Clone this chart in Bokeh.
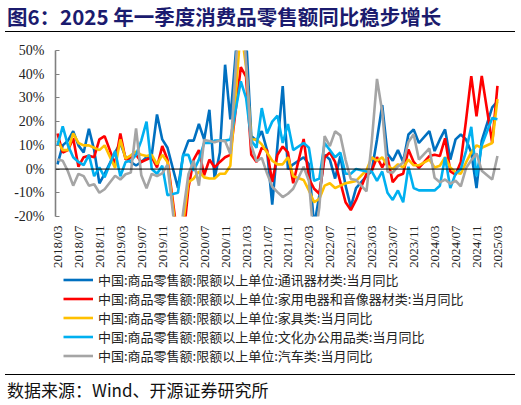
from math import pi
from bokeh.plotting import figure
from bokeh.models import (Range1d, FixedTicker, Span, Div, Legend, LegendItem,
                          ColumnDataSource)
from bokeh.layouts import column
from bokeh.embed import file_html
from bokeh.resources import INLINE

# ---------------- data ----------------
months = (["2018/%02d" % m for m in range(3, 13)] +
          ["%d/%02d" % (y, m) for y in range(2019, 2025) for m in range(2, 13)] +
          ["2025/02", "2025/03"])

tick_labels = ["2018/03", "2018/07", "2018/11", "2019/03", "2019/07", "2019/11",
               "2020/03", "2020/07", "2020/11", "2021/03", "2021/07", "2021/11",
               "2022/03", "2022/07", "2022/11", "2023/03", "2023/07", "2023/11",
               "2024/03", "2024/07", "2024/11", "2025/03"]

comm = ([2, 10, 12, 16, 10, 7, 17, 8, -6, -2] +
        [7, 11, 5, 3, 1.5, 3, 5, 6, 23, 12.5, 9] +
        [-8, 6, 12, 12, 19, 12.5, 25, -4, 7, 44, 21] +
        [75, 56, 14, 12, 16, 8, -15, 10, 35, 0, 2] +
        [5, 2, -24, -11, 6, 4, -4, 5.5, -7, -16, -8] +
        [-3, -0.7, 12.5, 27, 6.5, 3.5, 8, 3, 14.6, 16.7, 11] +
        [16, 7.6, 12.5, 16.7, 4, 12.5, 14.6, 12.5, 7, -8, 12] +
        [26, 28.5])

appliance = ([15, 7, 8, 13, 1, 5, 5.6, 5, 12.5, 13.9] +
             [2, 15, 4, 5, 6, 3, 4, 5, 0.7, 9.7, 4] +
             [-30, -29.7, -8, 4, 8, -2.6, 4, 0.7, 3, 5, 6] +
             [43, 39, 6, 3, 9, 8, -5.5, 6, 9.5, 7, -6] +
             [12.7, -4, -8.3, -10.4, 5, 7, 3, -5.5, -14, -17.3, -13] +
             [-2, -0.7, 5, 0.7, 5, -5.5, -2.8, -2, 8.3, 3, 0.5] +
             [5.5, 6, 5.5, 13, -1, -2.4, 3, 20.5, 39.2, 22.2, 39.3] +
             [11, 35.1])

furniture = ([12, 8, 8, 15, 11, 10, 10, 9, 8, 10] +
             [0.5, 12.5, 4.4, 5.8, 7.4, 6, 5.5, 6, 2, 6, 3] +
             [-33, -22.7, -5.5, -4, -1, -3.5, -4, -4, -2, -2, 1.4] +
             [60, 43, 12.5, 12.5, 10.4, 7, 3.5, 2, 2, 5, -3] +
             [-4.6, -9, -14, -12.5, -7, -6, -8, -7, -6, -5.5, -5] +
             [-0.5, 5, 3.5, 5, 1.4, 0, 2, 0.7, 4, 1.6, 1.6] +
             [4, 0.7, 1.4, 5, 0.7, -1.4, -2, 2.8, 7, 10, 9] +
             [11, 29.5])

office = ([10, 18, 10, 5, 3, 1.7, 6, -3, 0.7, -3.5] +
          [7.6, -3, 3, 3.5, 6, 12, 20, 0, -2, 1.4, -11] +
          [-10, 6, 6, -0.7, 4, 11, 11, 12, 12, 12, 12.5] +
          [37, 30, 12, 9, 25.7, 15, 20, 22.5, 11, 19, 8] +
          [11, 9, -5, -4, 11, 8, 5, 7, -2, -2, 0] +
          [-1, -1, -5, -1, -10, -13, -9, -14, 1, -8, -9] +
          [-9, -9, -7, 5, -8, -2, 0, 7.6, 17.8, -3, 10] +
          [21.5, 21])

auto = ([4, 3.5, -1, -7, -2, -3, -7, -6.4, -10, -8.5] +
        [-2.8, -4.4, -2.2, -1.5, 17.2, -2.6, -8.1, -2, -3, -1.8, 1.8] +
        [-37, -18.1, -2.2, 3.5, -7, 12.3, 11.8, 11.3, 12, 11.8, 6.4] +
        [77.6, 45, 10, 3.3, 4.7, -1.8, -7.4, -9.7, -11.8, -10.4, -8.3] +
        [1, -5, -31.6, -16, 13.9, 9.7, 15.9, 14.2, 3.9, -4.2, -4.6] +
        [-9.4, 11.5, 38, 24.2, -1.1, -1.5, 1.1, 2.8, 11.4, 14.7, 4] +
        [8.7, -3.7, -5.6, -4.4, -6.2, -4.9, -7.3, 0.4, 3.7, 6.6, -0.7] +
        [-4.4, 5.5])

series_names = ["中国:商品零售额:限额以上单位:通讯器材类:当月同比",
                "中国:商品零售额:限额以上单位:家用电器和音像器材类:当月同比",
                "中国:商品零售额:限额以上单位:家具类:当月同比",
                "中国:商品零售额:限额以上单位:文化办公用品类:当月同比",
                "中国:商品零售额:限额以上单位:汽车类:当月同比"]
series_colors = ["#0070C0", "#FF0000", "#FFC000", "#00B0F0", "#A5A5A5"]
series_values = [comm, appliance, furniture, office, auto]

title_text = "图6：2025 年一季度消费品零售额同比稳步增长"
source_text = "数据来源：Wind、开源证券研究所"


def month_index(s):
    y, m = s.split("/")
    return (int(y) - 2018) * 12 + int(m) - 3


xs = [month_index(m) for m in months]
tick_pos = [month_index(t) for t in tick_labels]

W = 520
CJK = "Noto Sans CJK SC"
SERIF = "Times New Roman"
LW = 2.6

# ---------------- main chart ----------------
p = figure(width=W, height=239, output_backend="svg", toolbar_location=None,
           x_range=Range1d(-0.38, 84.58), y_range=Range1d(-20, 50),
           min_border_left=55, min_border_right=20,
           min_border_top=18, min_border_bottom=53, margin=0)
p.outline_line_color = None
p.xgrid.visible = False
p.ygrid.visible = False
p.background_fill_color = "white"
p.border_fill_color = "white"

p.yaxis.ticker = FixedTicker(ticks=list(range(-20, 51, 10)))
p.yaxis.major_label_overrides = {v: "%d%%" % v for v in range(-20, 51, 10)}
p.yaxis.axis_line_color = "#808080"
p.yaxis.axis_line_width = 1.6
p.yaxis.major_tick_line_color = "#808080"
p.yaxis.major_tick_line_width = 1.2
p.yaxis.major_tick_in = 4
p.yaxis.major_tick_out = 0
p.yaxis.minor_tick_line_color = None
p.yaxis.major_label_standoff = 11
p.yaxis.major_label_text_font = SERIF
p.yaxis.major_label_text_font_size = "14px"
p.yaxis.major_label_text_color = "#222222"

p.xaxis.ticker = FixedTicker(ticks=tick_pos)
p.xaxis.major_label_overrides = {i: t for i, t in zip(tick_pos, tick_labels)}
p.xaxis.major_label_orientation = pi / 2
p.xaxis.axis_line_color = None
p.xaxis.major_tick_line_color = None
p.xaxis.minor_tick_line_color = None
p.xaxis.major_label_standoff = 3
p.xaxis.major_label_text_font = SERIF
p.xaxis.major_label_text_font_size = "13px"
p.xaxis.major_label_text_color = "#222222"

p.add_layout(Span(location=0, dimension="width", line_color="black", line_width=1))

for col, vals in zip(series_colors, series_values):
    src = ColumnDataSource(dict(x=xs, y=vals))
    p.line("x", "y", source=src, line_color=col, line_width=LW)

# ---------------- legend panel ----------------
LH = 103
lg = figure(width=W, height=LH, output_backend="svg", toolbar_location=None,
            x_range=Range1d(1000, 1001), y_range=Range1d(1000, 1001),
            x_axis_location=None, y_axis_location=None,
            min_border=0, margin=0)
lg.xgrid.visible = False
lg.ygrid.visible = False
lg.outline_line_color = None
lg.background_fill_color = "white"
lg.border_fill_color = "white"

items = []
for name, col, vals in zip(series_names, series_colors, series_values):
    src = ColumnDataSource(dict(x=xs, y=vals))
    r = lg.line("x", "y", source=src, line_color=col, line_width=LW)
    items.append(LegendItem(label=name, renderers=[r]))

ROW = 19
legend = Legend(items=items, location=(8, LH - 5 * ROW + 1), orientation="vertical",
                border_line_color=None, background_fill_alpha=0,
                label_text_font=CJK, label_text_font_size="13px",
                label_text_color="#222222",
                glyph_width=30, glyph_height=ROW, label_height=ROW,
                spacing=0, padding=0, margin=0, label_standoff=5)
lg.add_layout(legend)

# ---------------- title, rules, source ----------------
title_div = Div(text='<span style="margin-left:7px">%s</span>' % title_text,
                width=W, height=31, margin=0,
                styles={"font-family": "'%s'" % CJK, "font-size": "20.5px",
                        "font-weight": "bold", "color": "#1B1B6E",
                        "line-height": "33px", "white-space": "nowrap"})
rule1 = Div(text="", width=510, height=1, margin=(0, 0, 0, 5),
            styles={"background-color": "#000000"})
rule2 = Div(text="", width=510, height=1, margin=(0, 0, 0, 5),
            styles={"background-color": "#000000"})
source_div = Div(text='<span style="margin-left:7px">%s</span>' % source_text,
                 width=W, height=29, margin=0,
                 styles={"font-family": "'%s'" % CJK, "font-size": "17px",
                         "color": "#111111", "line-height": "30px",
                         "white-space": "nowrap"})

layout = column(title_div, rule1, p, lg, rule2, source_div, spacing=0, margin=0)

open("out.html", "w").write(file_html(layout, INLINE))
